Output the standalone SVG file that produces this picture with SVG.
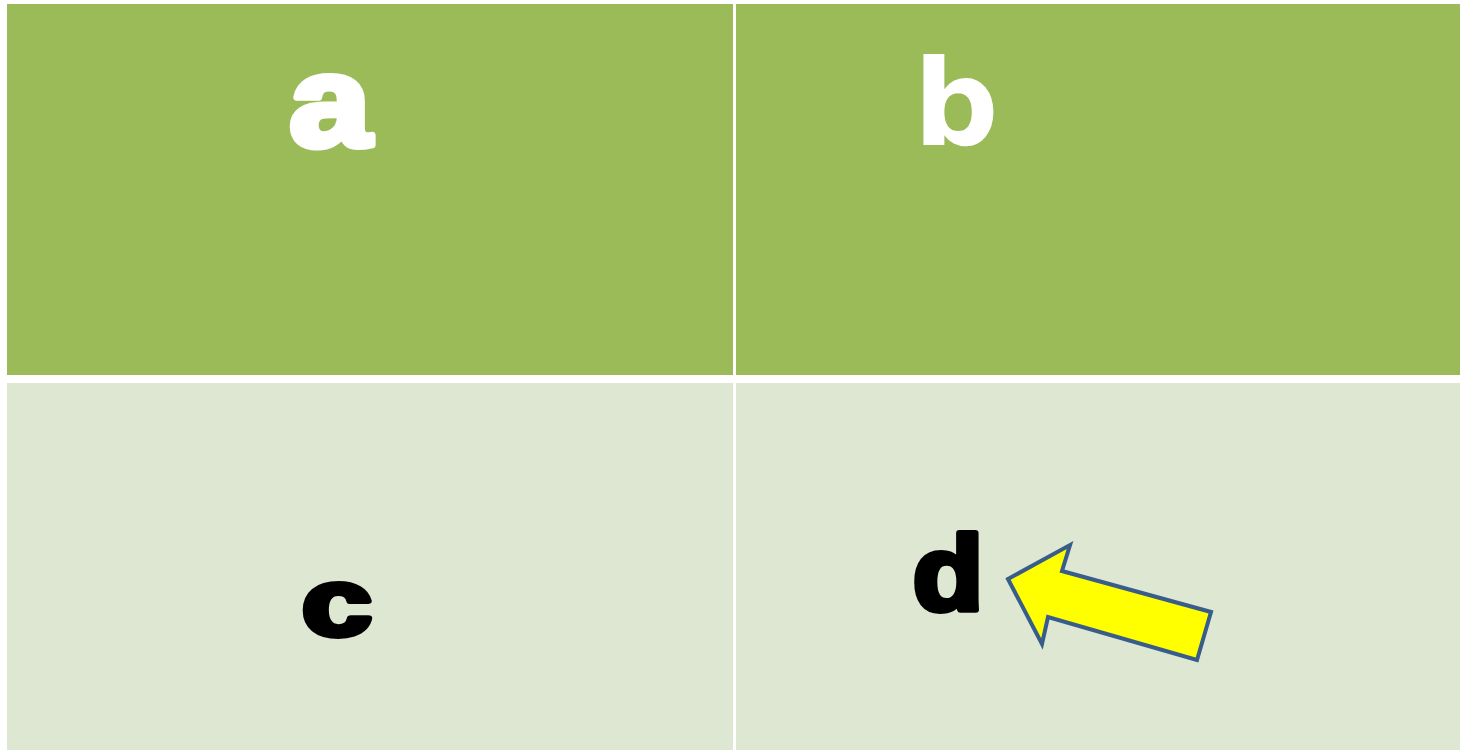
<svg xmlns="http://www.w3.org/2000/svg" width="1460" height="750" viewBox="0 0 1460 750">
<style>
.top{fill:#9BBB59}
.bot{fill:#DEE7D1}
.lt{font-family:"Liberation Sans",Arial,sans-serif;font-weight:bold;text-anchor:middle;stroke-linejoin:round}
.w{fill:#fff;stroke:#fff}
.k{fill:#000;stroke:#000}
</style>
<rect width="1460" height="750" fill="#fff"/>
<g id="cell-a"><rect class="top" x="7" y="4" width="726" height="371"/><text class="lt w" transform="translate(330,146) scale(1.14,1)" font-size="128" stroke-width="7">a</text></g>
<g id="cell-b"><rect class="top" x="736" y="4" width="724" height="371"/><text class="lt w" x="956" y="145" font-size="119" stroke-width="0" style="font-family:'DejaVu Sans',sans-serif">b</text></g>
<g id="cell-c"><rect class="bot" x="7" y="383" width="726" height="367"/><text class="lt k" transform="translate(337,635) scale(1.33,1)" font-size="95" stroke-width="6">c</text></g>
<g id="cell-d"><rect class="bot" x="736" y="383" width="724" height="367"/><text class="lt k" transform="translate(948,610) scale(1.1,1)" font-size="105" stroke-width="6">d</text></g>
<g id="connectors">
<polygon points="1008,579 1070,545 1062,571 1211,612 1197,660 1048,617 1042,644" fill="#FFFF00" stroke="#385D8A" stroke-width="4" stroke-linejoin="miter"/>
</g>
</svg>
